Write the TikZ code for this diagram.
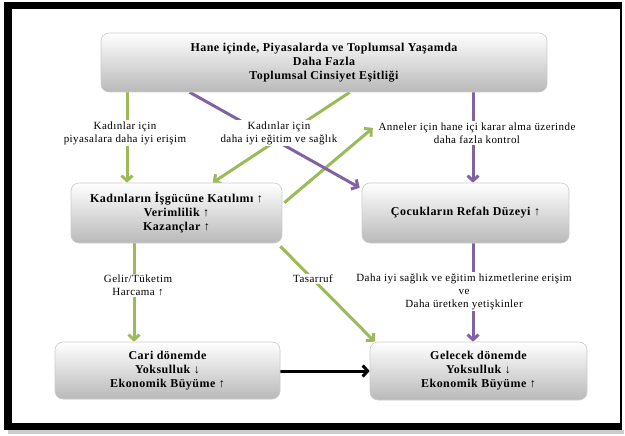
\documentclass[tikz,border=0pt]{standalone}
\usepackage{fontspec}
\setmainfont{Liberation Serif}
\newfontfamily\spacedfont{Liberation Serif}[LetterSpace=4]
\usetikzlibrary{arrows.meta,calc}
\pgfdeclarelayer{back}
\pgfdeclarelayer{bg}
\pgfsetlayers{back,bg,main}
\definecolor{ogreen}{HTML}{9BBB59}
\definecolor{opurple}{HTML}{8064A2}
\tikzset{
  box/.style={rounded corners=8pt, top color=white, bottom color=gray!55, draw=gray!40, line width=0.6pt,
    align=center, font=\spacedfont\fontsize{12}{14}\selectfont\bfseries, inner sep=0pt},
  lab/.style={fill=white, align=center, font=\spacedfont\fontsize{11}{13}\selectfont, inner sep=1.5pt},
  conn/.style={line width=3pt, -{Straight Barb[length=5pt,width=11pt,line width=3pt]}},
  gconn/.style={conn, draw=ogreen},
  pconn/.style={conn, draw=opurple},
  kconn/.style={conn, draw=black},
}
\begin{document}
\begin{tikzpicture}[x=1pt,y=-1pt]
\useasboundingbox (0,0) rectangle (625,436);
\begin{pgfonlayer}{back}
\fill[gray!40] (8,430) rectangle (624,434);
\fill[black] (4,2) rectangle (622,430);
\fill[white] (12,9) rectangle (620,423);
\end{pgfonlayer}

\node[box, minimum width=446pt, minimum height=59pt] (top) at (324,62.5)
  {Hane içinde, Piyasalarda ve Toplumsal Yaşamda\\Daha Fazla\\Toplumsal Cinsiyet Eşitliği};
\node[box, minimum width=211pt, minimum height=60pt] (lm) at (176.5,213)
  {Kadınların İşgücüne Katılımı ↑\\Verimlilik ↑\\Kazançlar ↑};
\node[box, minimum width=207pt, minimum height=60pt] (rm) at (465.5,213)
  {Çocukların Refah Düzeyi ↑};
\node[box, minimum width=225pt, minimum height=57pt] (bl) at (167.5,370.5)
  {Cari dönemde\\Yoksulluk ↓\\Ekonomik Büyüme ↑};
\node[box, minimum width=217pt, minimum height=58pt] (br) at (478.5,371)
  {Gelecek dönemde\\Yoksulluk ↓\\Ekonomik Büyüme ↑};

\node[lab] (l1) at (125,133) {Kadınlar için\\piyasalara daha iyi erişim};
\node[lab] (l2) at (279,133) {Kadınlar için\\daha iyi eğitim ve sağlık};
\node[lab] (l3) at (477,133) {Anneler için hane içi karar alma üzerinde\\daha fazla kontrol};
\node[lab] (l4) at (138,285.5) {Gelir/Tüketim\\Harcama ↑};
\node[lab] (l5) at (313,279) {Tasarruf};
\node[lab] (l6) at (464,291.5) {Daha iyi sağlık ve eğitim hizmetlerine erişim\\ve\\Daha üretken yetişkinler};

\coordinate (x1) at (127,0);
\coordinate (x2) at (134,0);
\coordinate (x3) at (473,0);

\begin{pgfonlayer}{bg}
\draw[gconn] (top.south -| x1) -- (lm.north -| x1);
\draw[gconn] ($(top.south west)+(249,0)$) -- ($(lm.north west)+(142,0)$);
\draw[gconn] ($(lm.north east)+(2,20)$) -- ($(l3.west)+(-4,-5)$);
\draw[pconn] ($(top.south west)+(89,0)$) -- ($(rm.north west)+(-2,5)$);
\draw[pconn] (top.south -| x3) -- (rm.north -| x3);
\draw[gconn] (lm.south -| x2) -- (bl.north -| x2);
\draw[gconn] ($(lm.south east)+(-2,3)$) -- ($(br.north west)+(5,0)$);
\draw[pconn] (rm.south -| x3) -- (br.north -| x3);
\draw[kconn] (bl.east |- 0,371) -- (br.west |- 0,371);
\end{pgfonlayer}
\end{tikzpicture}
\end{document}
